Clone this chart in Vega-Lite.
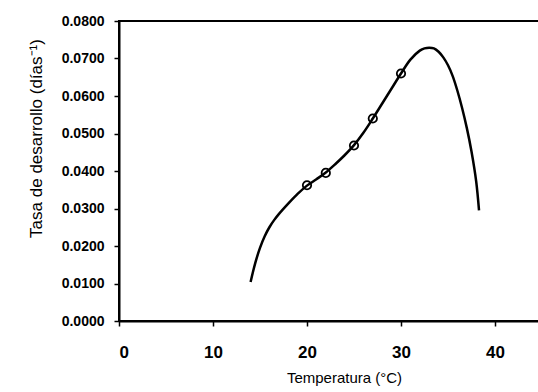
{
  "$schema": "https://vega.github.io/schema/vega-lite/v6.json",
  "autosize": {"type": "none"},
  "width": 423,
  "height": 300,
  "padding": {"left": 119, "top": 21, "right": 0, "bottom": 71},
  "background": "white",
  "config": {
    "view": {"stroke": "black", "strokeWidth": 2},
    "font": "Liberation Sans",
    "axis": {
      "grid": false,
      "domainColor": "black",
      "domainWidth": 2,
      "tickColor": "black",
      "tickWidth": 1.5,
      "tickSize": 5,
      "labelColor": "black",
      "titleColor": "black",
      "labelFont": "Liberation Sans",
      "titleFont": "Liberation Sans",
      "labelFontWeight": "bold"
    }
  },
  "datasets": {
    "curve": [
      {"t": 14.0, "r": 0.0104},
      {"t": 14.5, "r": 0.0155},
      {"t": 15.0, "r": 0.0195},
      {"t": 15.5, "r": 0.0226},
      {"t": 16.0, "r": 0.0250},
      {"t": 16.5, "r": 0.0269},
      {"t": 17.0, "r": 0.0285},
      {"t": 18.0, "r": 0.0313},
      {"t": 19.0, "r": 0.0339},
      {"t": 20.0, "r": 0.0361},
      {"t": 21.0, "r": 0.0378},
      {"t": 22.0, "r": 0.0396},
      {"t": 23.0, "r": 0.0418},
      {"t": 24.0, "r": 0.0442},
      {"t": 25.0, "r": 0.0469},
      {"t": 26.0, "r": 0.0502},
      {"t": 27.0, "r": 0.0540},
      {"t": 28.0, "r": 0.0580},
      {"t": 29.0, "r": 0.0620},
      {"t": 30.0, "r": 0.0660},
      {"t": 31.0, "r": 0.0697},
      {"t": 32.0, "r": 0.0721},
      {"t": 32.5, "r": 0.0727},
      {"t": 33.0, "r": 0.0729},
      {"t": 33.5, "r": 0.0727},
      {"t": 34.0, "r": 0.0718},
      {"t": 34.5, "r": 0.0703},
      {"t": 35.0, "r": 0.0682},
      {"t": 35.5, "r": 0.0653},
      {"t": 36.0, "r": 0.0614},
      {"t": 36.5, "r": 0.0568},
      {"t": 37.0, "r": 0.0515},
      {"t": 37.5, "r": 0.0452},
      {"t": 38.0, "r": 0.0372},
      {"t": 38.3, "r": 0.0295}
    ],
    "obs": [
      {"t": 20, "r": 0.0362},
      {"t": 22, "r": 0.0395},
      {"t": 25, "r": 0.0468},
      {"t": 27, "r": 0.0540},
      {"t": 30, "r": 0.0660}
    ]
  },
  "encoding": {
    "x": {
      "field": "t", "type": "quantitative",
      "scale": {"domain": [0, 45], "nice": false},
      "axis": {
        "values": [0, 10, 20, 30, 40],
        "title": "Temperatura (°C)",
        "labelFontSize": 17,
        "labelPadding": 18,
        "titleFontSize": 15,
        "titlePadding": 10,
        "titleFontWeight": "normal",
        "titleX": 225
      }
    },
    "y": {
      "field": "r", "type": "quantitative",
      "scale": {"domain": [0, 0.08], "nice": false},
      "axis": {
        "values": [0, 0.01, 0.02, 0.03, 0.04, 0.05, 0.06, 0.07, 0.08],
        "format": ".4f",
        "title": "Tasa de desarrollo (días⁻¹)",
        "labelFontSize": 14,
        "labelPadding": 10,
        "titleFontSize": 17,
        "titleFontWeight": "normal",
        "titlePadding": 16,
        "titleY": 117
      }
    }
  },
  "layer": [
    {
      "data": {"name": "curve"},
      "mark": {"type": "line", "interpolate": "catmull-rom", "color": "black", "strokeWidth": 2.5}
    },
    {
      "data": {"name": "obs"},
      "mark": {"type": "point", "shape": "circle", "filled": false, "color": "black", "size": 70, "strokeWidth": 1.8, "opacity": 1}
    }
  ]
}
